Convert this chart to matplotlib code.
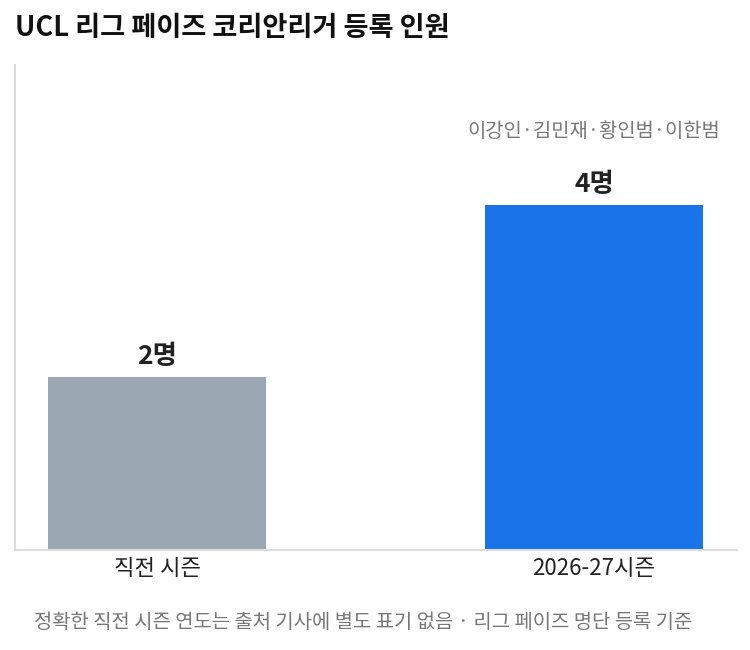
import matplotlib
matplotlib.use("Agg")
import matplotlib.pyplot as plt

plt.rcParams['font.family'] = ['Noto Sans CJK KR', 'DejaVu Sans']

categories = ["직전 시즌", "2026-27시즌"]
values = [2, 4]
value_labels = ["2명", "4명"]
bar_colors = ["#9BA8B4", "#1A73E8"]
players_note = "이강인·김민재·황인범·이한범"
title = "UCL 리그 페이즈 코리안리거 등록 인원"
footer = "정확한 직전 시즌 연도는 출처 기사에 별도 표기 없음 · 리그 페이즈 명단 등록 기준"

fig = plt.figure(figsize=(7.5, 6.5), dpi=100)
ax = fig.add_axes([15/750, 1 - 550/650, 722/750, 485/650])

x = list(range(len(categories)))
bars = ax.bar(x, values, width=0.5, color=bar_colors)
ax.set_xlim(-0.325, 1.327)
ax.set_ylim(0, 5.62)

for xi, v, lab in zip(x, values, value_labels):
    ax.annotate(lab, (xi, v), xytext=(0, 5), textcoords="offset points",
                ha="center", va="bottom", fontsize=19, fontweight="bold", color="#222222")

ax.annotate(players_note, (x[-1], values[-1]), xytext=(x[-1], 0.862),
            textcoords=ax.get_xaxis_transform(),
            ha="center", va="center", fontsize=14.3, color="#777777")

ax.set_xticks(x)
ax.set_xticklabels(categories, fontsize=16, color="#222222")
ax.tick_params(axis="x", length=0, pad=5)
ax.set_yticks([])
for s in ["top", "right"]:
    ax.spines[s].set_visible(False)
for s in ["left", "bottom"]:
    ax.spines[s].set_color("#DDDDDD")
    ax.spines[s].set_linewidth(1.5)

fig.text(15/750, 1 - 28/650, title, ha="left", va="center", fontsize=19.6, fontweight="bold", color="#111111")
fig.text(363/750, 1 - 622/650, footer, ha="center", va="center", fontsize=14.3, color="#777777")

fig.savefig("out.png", dpi=100, facecolor="white")
